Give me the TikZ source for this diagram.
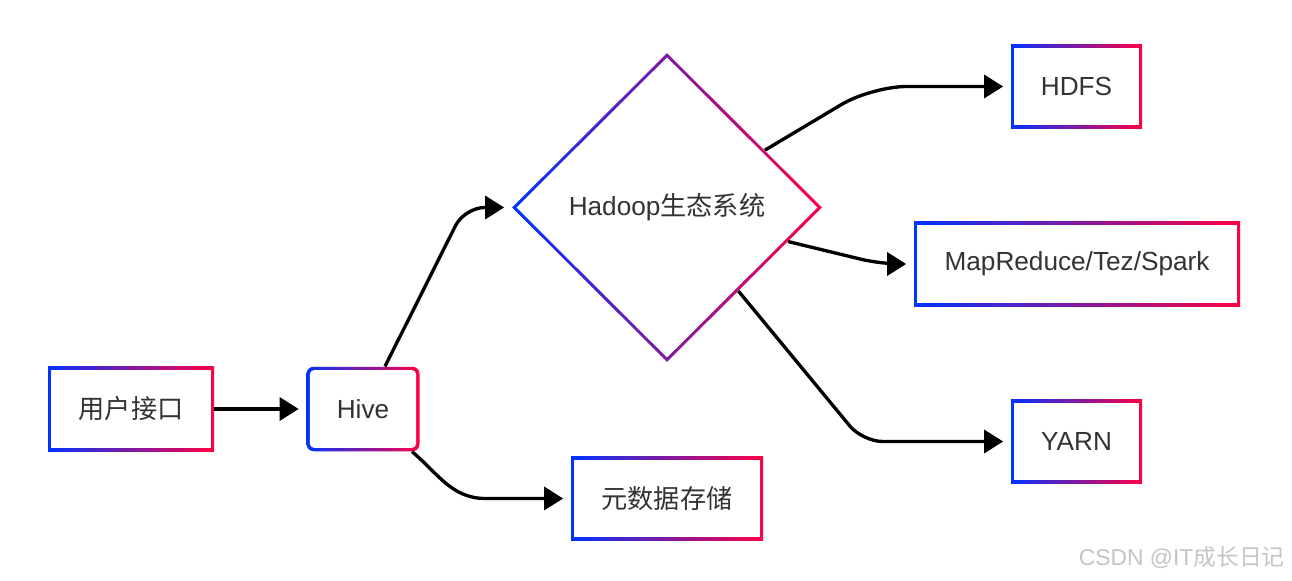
\documentclass[tikz,border=0pt]{standalone}
\usepackage{fontspec}
\setmainfont{Liberation Sans}
\newfontfamily\cjk{Noto Sans CJK SC}
\usepackage{tikz}
\usetikzlibrary{shapes.geometric, arrows.meta, calc}
\definecolor{myblue}{RGB}{0,51,255}
\definecolor{myred}{RGB}{255,0,68}
\definecolor{mytext}{RGB}{51,51,51}
\definecolor{mymark}{RGB}{196,196,196}
\tikzset{
  block/.style={rectangle, left color=myblue, right color=myred,
    minimum height=1.69cm, inner sep=0pt, text=mytext,
    font=\fontsize{14.9}{17}\selectfont,
    path picture={\fill[white]
      ([shift={(1.9pt,1.9pt)}]path picture bounding box.south west) rectangle
      ([shift={(-1.9pt,-1.9pt)}]path picture bounding box.north east);}},
  roundblock/.style={rectangle, rounded corners=4pt, left color=myblue, right color=myred,
    minimum height=1.69cm, inner sep=0pt, text=mytext,
    font=\fontsize{14.9}{17}\selectfont,
    path picture={\fill[white, rounded corners=2.5pt]
      ([shift={(1.9pt,1.9pt)}]path picture bounding box.south west) rectangle
      ([shift={(-1.9pt,-1.9pt)}]path picture bounding box.north east);}},
  ecodiamond/.style={diamond, left color=myblue, right color=myred,
    minimum width=6.2cm, minimum height=6.18cm, inner sep=0pt, text=mytext,
    font=\fontsize{14.9}{17}\selectfont,
    path picture={\fill[white]
      ([xshift=2.5pt]path picture bounding box.west) --
      ([yshift=-2.5pt]path picture bounding box.north) --
      ([xshift=-2.5pt]path picture bounding box.east) --
      ([yshift=2.5pt]path picture bounding box.south) -- cycle;}},
  arrow/.style={-{Triangle[length=0.38cm, width=0.46cm]}, line width=1.9pt,
    color=black, shorten >=0.15cm},
  watermark/.style={text=mymark, font=\fontsize{13}{15}\selectfont}
}

\begin{document}
\begin{tikzpicture}
  \useasboundingbox (0,0) rectangle (25.84,11.6);

  % Left side
  \node[block, minimum width=3.32cm] (ui) at (2.62,3.42) {{\cjk 用户接口}};
  \node[roundblock, minimum width=2.26cm] (hive) at (7.26,3.42) {Hive};
  \node[block, minimum width=3.84cm] (meta) at (13.34,1.63) {{\cjk 元数据存储}};

  % Hadoop
  \node[ecodiamond] (eco) at (13.34,7.45) {Hadoop{\cjk 生态系统}};

  % Right side
  \node[block, minimum width=2.62cm] (hdfs) at (21.53,9.87) {HDFS};
  \node[block, minimum width=6.52cm] (mr) at (21.54,6.32) {MapReduce/Tez/Spark};
  \node[block, minimum width=2.62cm] (yarn) at (21.53,2.77) {YARN};

  % Connections
  \draw[arrow] (ui.east) -- (hive.west);
  \draw[arrow, rounded corners=0.4cm] ([xshift=0.44cm]hive.north)
    -- ($(eco.west)+(-0.94,0)$) -- (eco.west);
  \draw[arrow] ([xshift=0.98cm]hive.south) to[out=-40, in=180]
    ($(meta.west)+(-1.7,0)$) -- (meta.west);
  \draw[arrow, rounded corners=0.7cm] ($(eco.north)!0.63!(eco.east)$)
    -- ($(hdfs.west)+(-2.78,0)$) -- (hdfs.west);
  \draw[arrow, rounded corners=0.4cm] ($(eco.east)!0.22!(eco.south)$)
    -- ($(mr.west)+(-0.66,0)$) -- (mr.west);
  \draw[arrow, rounded corners=0.4cm] ($(eco.east)!0.54!(eco.south)$)
    -- ($(yarn.west)+(-2.96,0)$) -- (yarn.west);

  % Watermark
  \node[watermark, anchor=east] (csdn) at (25.82,0.46) {CSDN @IT{\cjk 成长日记}};
\end{tikzpicture}
\end{document}
